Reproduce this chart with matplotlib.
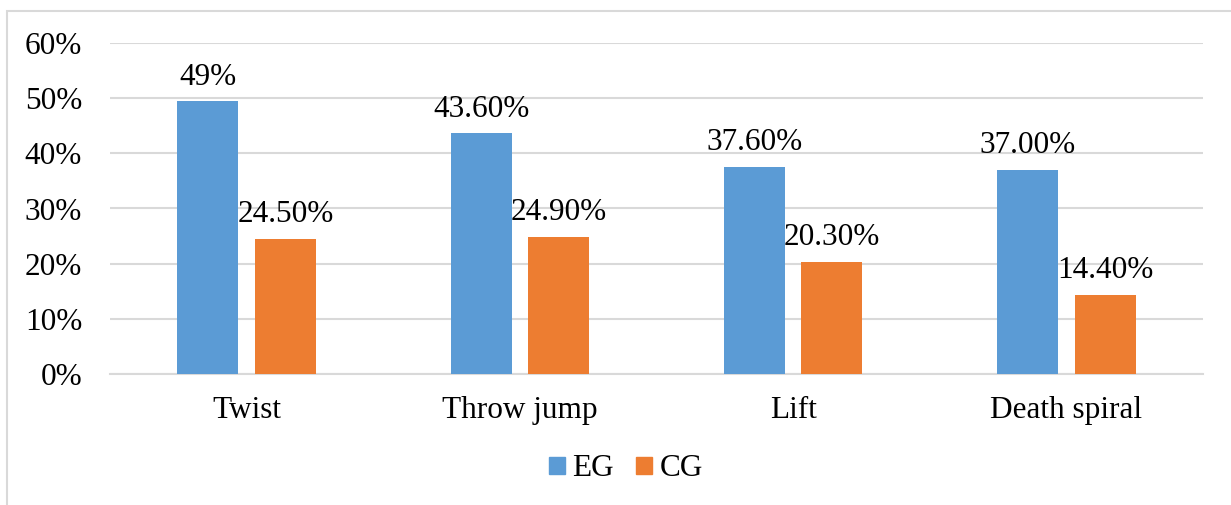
import matplotlib

matplotlib.use("Agg")
import matplotlib.pyplot as plt
import numpy as np
from matplotlib.patches import Patch, Rectangle

categories = ["Twist", "Throw jump", "Lift", "Death spiral"]
eg_values = [0.494, 0.436, 0.376, 0.370]
cg_values = [0.245, 0.249, 0.203, 0.144]
eg_labels = ["49%", "43.60%", "37.60%", "37.00%"]
cg_labels = ["24.50%", "24.90%", "20.30%", "14.40%"]
y_ticks = [0, 0.1, 0.2, 0.3, 0.4, 0.5, 0.6]

plt.rcParams["font.family"] = ["Liberation Serif", "DejaVu Serif"]
plt.rcParams["font.size"] = 22.5

blue = "#5B9BD5"
orange = "#ED7D31"
grid_c = "#D9D9D9"

fig = plt.figure(figsize=(12.31, 5.05), dpi=100)
ax = fig.add_axes([110 / 1231, 1 - 374 / 505, (1203 - 110) / 1231, (374 - 43) / 505])

x = np.arange(len(categories))
w = 0.223
off = 0.142
b1 = ax.bar(x - off, eg_values, w, color=blue, zorder=3)
b2 = ax.bar(x + off, cg_values, w, color=orange, zorder=3)
for rect, lab in zip(b1, eg_labels):
    ax.annotate(lab, (rect.get_x() + rect.get_width() / 2, rect.get_height()),
                xytext=(0, 7), textcoords="offset points", ha="center", va="bottom")
for rect, lab in zip(b2, cg_labels):
    ax.annotate(lab, (rect.get_x() + rect.get_width() / 2, rect.get_height()),
                xytext=(0, 7), textcoords="offset points", ha="center", va="bottom")

ax.set_xlim(-0.5, len(categories) - 0.5)
ax.set_ylim(0, 0.6)
ax.set_yticks(y_ticks)
ax.set_yticklabels([f"{int(round(t * 100))}%" for t in y_ticks])
ax.set_xticks(x)
ax.set_xticklabels(categories)
ax.tick_params(axis="both", length=0)
ax.tick_params(axis="y", pad=20)
ax.tick_params(axis="x", pad=16)
ax.grid(axis="y", color=grid_c, linewidth=1.5, zorder=0)
for s in ["top", "right", "left"]:
    ax.spines[s].set_visible(False)
ax.spines["bottom"].set_color(grid_c)
ax.spines["bottom"].set_linewidth(1.5)

# chart area border
fig.patches.append(Rectangle((7 / 1231, -0.05), 1.1, 1 - 11 / 505 + 0.05,
                             transform=fig.transFigure, fill=False,
                             edgecolor=grid_c, linewidth=1.5))

handles = [Patch(color=blue, label="EG"), Patch(color=orange, label="CG")]
fig.legend(handles=handles, loc="center", bbox_to_anchor=(626 / 1231, 1 - 469 / 505),
           ncol=2, frameon=False, handlelength=0.5, handleheight=0.5,
           handletextpad=0.25, columnspacing=0.7)

fig.savefig("out.png", dpi=100)
